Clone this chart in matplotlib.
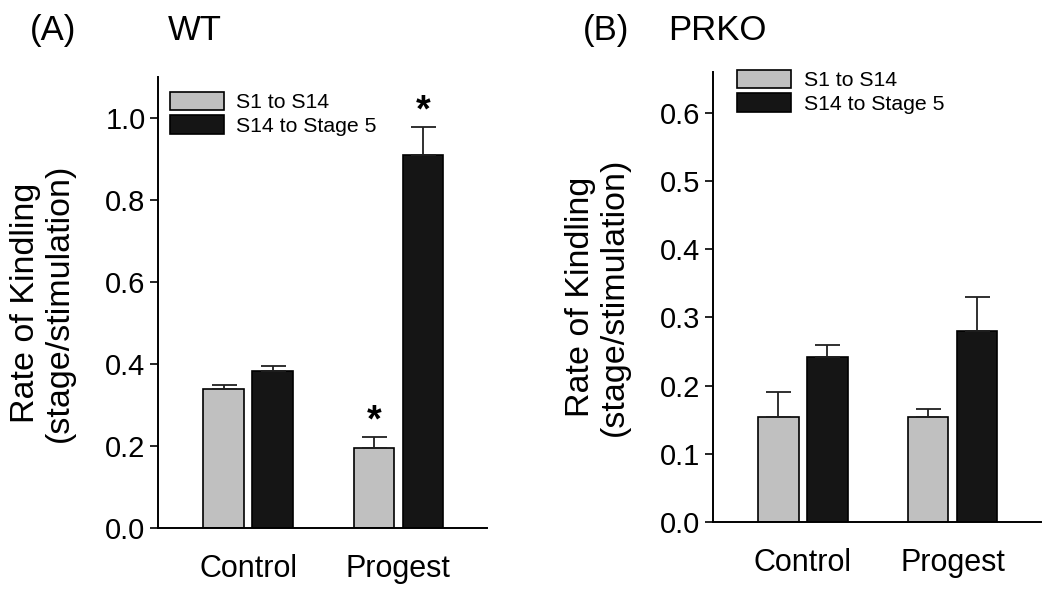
import numpy as np
import matplotlib.pyplot as plt
from matplotlib.patches import Patch

plt.rcParams['font.family'] = ['Liberation Sans', 'DejaVu Sans']

groups = ["Control", "Progest"]
series = ["S1 to S14", "S14 to Stage 5"]

wt_s1 = [0.340, 0.195]
wt_s1_err = [0.010, 0.026]
wt_s14 = [0.384, 0.910]
wt_s14_err = [0.012, 0.068]
wt_sig = [[False, True], [False, True]]

ko_s1 = [0.154, 0.154]
ko_s1_err = [0.037, 0.011]
ko_s14 = [0.242, 0.280]
ko_s14_err = [0.018, 0.050]

gray = "#c0c0c0"
dark = "#151515"

fig = plt.figure(figsize=(10.5, 5.9), dpi=100)
axA = fig.add_axes([0.1505, 0.105, 0.3133, 0.764])
axB = fig.add_axes([0.679, 0.1153, 0.3124, 0.7627])


def panel(ax, s1, s1e, s14, s14e, ymax, ticks, sig=None):
    x = np.arange(len(groups))
    off = 0.1635
    w = 0.27
    ax.bar(x - off, s1, w, color=gray, edgecolor="black", linewidth=1.2)
    ax.bar(x + off, s14, w, color=dark, edgecolor="black", linewidth=1.2)
    ax.errorbar(x - off, s1, yerr=[np.zeros(len(s1)), s1e], fmt="none",
                ecolor="#202020", elinewidth=1.3, capsize=9, capthick=1.3)
    ax.errorbar(x + off, s14, yerr=[np.zeros(len(s14)), s14e], fmt="none",
                ecolor="#202020", elinewidth=1.3, capsize=9, capthick=1.3)
    if sig is not None:
        for vals, errs, d, flags in [(s1, s1e, -off, sig[0]), (s14, s14e, off, sig[1])]:
            for i, f in enumerate(flags):
                if f:
                    ax.text(x[i] + d, vals[i] + errs[i] - 0.005, "*",
                            ha="center", va="bottom", fontsize=27,
                            fontweight="bold")
    ax.set_xlim(-0.6, 1.59)
    ax.set_ylim(0, ymax)
    ax.set_yticks(ticks)
    ax.set_yticklabels([f"{t:.1f}" for t in ticks])
    ax.set_xticks(x)
    ax.set_xticklabels(groups)
    ax.tick_params(axis="x", length=0, pad=19, labelsize=22)
    ax.tick_params(axis="y", length=6, width=1.2, pad=3, labelsize=21)
    for s in ["top", "right"]:
        ax.spines[s].set_visible(False)
    for s in ["left", "bottom"]:
        ax.spines[s].set_linewidth(1.4)
    ax.set_ylabel("Rate of Kindling\n(stage/stimulation)", fontsize=24.5,
                  labelpad=22, linespacing=1.1)
    handles = [Patch(facecolor=gray, edgecolor="black", linewidth=1.2),
               Patch(facecolor=dark, edgecolor="black", linewidth=1.2)]
    return handles


h = panel(axA, wt_s1, wt_s1_err, wt_s14, wt_s14_err, 1.1,
          [0.0, 0.2, 0.4, 0.6, 0.8, 1.0], sig=wt_sig)
axA.legend(h, series, loc="upper left", bbox_to_anchor=(0.035, 0.968),
           frameon=False, fontsize=15.3, handlelength=2.55, handleheight=0.95,
           labelspacing=0.15, handletextpad=0.6, borderpad=0, borderaxespad=0)

h = panel(axB, ko_s1, ko_s1_err, ko_s14, ko_s14_err, 0.66,
          [0.0, 0.1, 0.2, 0.3, 0.4, 0.5, 0.6])
axB.legend(h, series, loc="upper left", bbox_to_anchor=(0.072, 1.005),
           frameon=False, fontsize=15.3, handlelength=2.55, handleheight=0.95,
           labelspacing=0.15, handletextpad=0.6, borderpad=0, borderaxespad=0)

fig.text(0.028, 0.948, "(A)", fontsize=25, va="center")
fig.text(0.16, 0.948, "WT", fontsize=25, va="center")
fig.text(0.555, 0.948, "(B)", fontsize=25, va="center")
fig.text(0.636, 0.948, "PRKO", fontsize=25, va="center")

fig.savefig("out.png", dpi=100)
